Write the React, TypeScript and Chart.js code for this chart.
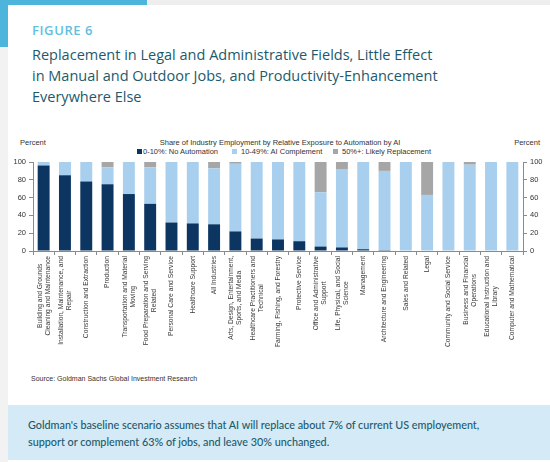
import React, { useEffect, useRef } from "react";
import { Chart, registerables } from "chart.js";

Chart.register(...registerables);

const categories: (string | string[])[] = [
  ["Building and Grounds", "Cleaning and Maintenance"],
  ["Installation, Maintenance, and", "Repair"],
  "Construction and Extraction",
  "Production",
  ["Transportation and Material", "Moving"],
  ["Food Preparation and Serving", "Related"],
  "Personal Care and Service",
  "Healthcare Support",
  "All Industries",
  ["Arts, Design, Entertainment,", "Sports, and Media"],
  ["Healthcare Practitioners and", "Technical"],
  "Farming, Fishing, and Forestry",
  "Protective Service",
  ["Office and Administrative", "Support"],
  ["Life, Physical, and Social", "Science"],
  "Management",
  "Architecture and Engineering",
  "Sales and Related",
  "Legal",
  "Community and Social Service",
  ["Business and Financial", "Operations"],
  ["Educational Instruction and", "Library"],
  "Computer and Mathematical",
];

const noAutomation = [96, 85, 78, 75, 64, 53, 32, 31, 30, 22, 14, 13, 11, 5, 4, 2, 1, 0, 0, 0, 0, 0, 0];
const aiComplement = [4, 15, 22, 19, 36, 41, 68, 69, 63, 76, 86, 87, 89, 61, 88, 98, 89, 100, 63, 100, 97, 100, 100];
const likelyReplacement = [0, 0, 0, 6, 0, 6, 0, 0, 7, 2, 0, 0, 0, 34, 8, 0, 10, 0, 37, 0, 3, 0, 0];

const seriesNames = ["0-10%: No Automation", "10-49%: AI Complement", "50%+: Likely Replacement"];
const yTicks = [0, 20, 40, 60, 80, 100];

const NAVY = "#0c3661";
const LIGHT = "#a8cfed";
const GREY = "#a6a6a6";
const AXIS = "#8a8a8a";
const TXT = "#333333";
const TEAL = "#1d5a6c";
const SMALL_FONT = "'Liberation Sans', Arial, sans-serif";

// draws the category labels rotated, with each label's lines centred on one another
const centredLabels = {
  id: "centredLabels",
  afterDraw(chart: any) {
    const xs = chart.scales.x;
    const ctx = chart.ctx;
    const size = 6.7;
    const lh = 8;
    ctx.save();
    ctx.font = `${size}px ${SMALL_FONT}`;
    ctx.fillStyle = "#3a3a3a";
    ctx.textBaseline = "middle";
    ctx.textAlign = "center";
    const top = xs.top + 5;
    categories.forEach((c, i) => {
      const lines = Array.isArray(c) ? c : [c];
      const w = Math.max(...lines.map((l) => ctx.measureText(l).width));
      const x = xs.getPixelForValue(i);
      ctx.save();
      ctx.translate(x, top);
      ctx.rotate(-Math.PI / 2);
      lines.forEach((l, j) => {
        ctx.fillText(l, -w / 2, (j - (lines.length - 1) / 2) * lh);
      });
      ctx.restore();
    });
    ctx.restore();
  },
};

function ChartBox() {
  const ref = useRef<HTMLCanvasElement>(null);
  useEffect(() => {
    if (!ref.current) return;
    const font = { family: SMALL_FONT, size: 7.5 };
    const chart = new Chart(ref.current, {
      type: "bar",
      data: {
        labels: categories,
        datasets: [
          { label: seriesNames[0], data: noAutomation, backgroundColor: NAVY, yAxisID: "y" },
          { label: seriesNames[1], data: aiComplement, backgroundColor: LIGHT, yAxisID: "y" },
          { label: seriesNames[2], data: likelyReplacement, backgroundColor: GREY, yAxisID: "y" },
        ],
      },
      plugins: [centredLabels],
      options: {
        animation: false,
        responsive: false,
        maintainAspectRatio: false,
        layout: { padding: { top: 8, left: 0, right: 0, bottom: 0 } },
        datasets: { bar: { categoryPercentage: 1, barPercentage: 0.56 } },
        plugins: { legend: { display: false }, title: { display: false }, tooltip: { enabled: false } },
        scales: {
          x: {
            stacked: true,
            offset: true,
            grid: { display: true, drawOnChartArea: false, offset: true, tickLength: 4, color: AXIS },
            border: { display: true, color: AXIS },
            ticks: { display: false, autoSkip: false },
            afterFit: (s: any) => {
              s.height = 103;
            },
          },
          y: {
            stacked: true,
            position: "left",
            min: 0,
            max: 100,
            afterBuildTicks: (s: any) => {
              s.ticks = yTicks.map((v) => ({ value: v }));
            },
            grid: { display: true, drawOnChartArea: false, tickLength: 4, color: AXIS },
            border: { display: true, color: AXIS },
            ticks: { color: TXT, font, padding: 3 },
            afterFit: (s: any) => {
              s.width = 33;
            },
          },
          y2: {
            display: true,
            position: "right",
            min: 0,
            max: 100,
            afterBuildTicks: (s: any) => {
              s.ticks = yTicks.map((v) => ({ value: v }));
            },
            grid: { display: true, drawOnChartArea: false, tickLength: 4, color: AXIS },
            border: { display: true, color: AXIS },
            ticks: { color: TXT, font, padding: 3 },
            afterFit: (s: any) => {
              s.width = 27;
            },
          },
        },
      },
    });
    return () => chart.destroy();
  }, []);
  return <canvas ref={ref} width={550} height={200} style={{ position: "absolute", left: 0, top: 154, width: 550, height: 200 }} />;
}

const legendColors = [NAVY, LIGHT, GREY];
const legendLeft = [137, 232, 333];

export default function App() {
  const head = "'Open Sans', Lato, sans-serif";
  const body = "Lato, 'Open Sans', sans-serif";
  return (
    <div style={{ position: "fixed", left: 0, top: 0, width: 550, height: 462, background: "#ffffff", overflow: "hidden" }}>
      {/* frame */}
      <div style={{ position: "absolute", left: 0, top: 0, width: 550, height: 5, background: "#eeeeee" }} />
      <div style={{ position: "absolute", left: 0, top: 0, width: 8, height: 462, background: "#f2f2f2" }} />
      <div style={{ position: "absolute", left: 0, top: 0, width: 147, height: 5, background: "#4db5dc" }} />
      <div style={{ position: "absolute", left: 0, top: 0, width: 8, height: 47, background: "#4db5dc" }} />

      <div style={{ position: "absolute", left: 32, top: 21, fontFamily: head, fontSize: 13, fontWeight: 600, color: "#62bfde", letterSpacing: 0.6 }}>
        FIGURE 6
      </div>
      <div style={{ position: "absolute", left: 32, top: 44, width: 480, whiteSpace: "nowrap", fontFamily: head, fontSize: 14.5, fontWeight: 500, color: TEAL, lineHeight: "21px" }}>
        Replacement in Legal and Administrative Fields, Little Effect
        <br />
        in Manual and Outdoor Jobs, and Productivity-Enhancement
        <br />
        Everywhere Else
      </div>

      <div style={{ position: "absolute", left: 20, top: 138, fontFamily: SMALL_FONT, fontSize: 7.5, color: TXT }}>Percent</div>
      <div style={{ position: "absolute", right: 10, top: 138, fontFamily: SMALL_FONT, fontSize: 7.5, color: TXT }}>Percent</div>
      <div style={{ position: "absolute", left: 0, width: 560, textAlign: "center", top: 138, fontFamily: SMALL_FONT, fontSize: 7.5, color: TXT }}>
        Share of Industry Employment by Relative Exposure to Automation by AI
      </div>
      {seriesNames.map((n, i) => (
        <div key={n} style={{ position: "absolute", left: legendLeft[i], top: 147, fontFamily: SMALL_FONT, fontSize: 7.5, color: TXT, display: "flex", alignItems: "center", whiteSpace: "nowrap" }}>
          <span style={{ display: "inline-block", width: 5, height: 5, background: legendColors[i], marginRight: i === 0 ? 1 : 4 }} />
          {n}
        </div>
      ))}

      <ChartBox />

      <div style={{ position: "absolute", left: 31, top: 375, fontFamily: SMALL_FONT, fontSize: 7, color: TXT }}>
        Source: Goldman Sachs Global Investment Research
      </div>

      <div style={{ position: "absolute", left: 8, top: 405, width: 542, height: 55, background: "#d4eaf6" }} />
      <div style={{ position: "absolute", left: 28, top: 416, whiteSpace: "nowrap", fontFamily: body, fontSize: 10.8, fontWeight: 500, color: TEAL, lineHeight: "17px" }}>
        Goldman's baseline scenario assumes that AI will replace about 7% of current US employement,
        <br />
        support or complement 63% of jobs, and leave 30% unchanged.
      </div>
    </div>
  );
}
